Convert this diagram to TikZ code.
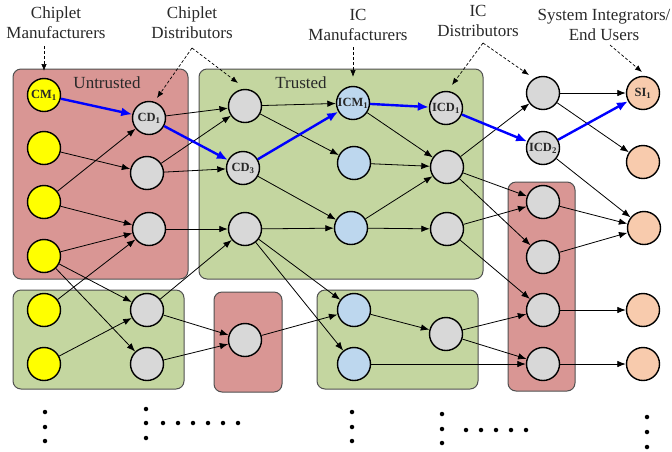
\documentclass[tikz,border=0pt]{standalone}
\usepackage{fontspec}
\setmainfont{Liberation Serif}
\usetikzlibrary{arrows.meta}
\definecolor{redbox}{RGB}{217,150,148}
\definecolor{greenbox}{RGB}{196,214,160}
\definecolor{boxline}{RGB}{80,80,80}
\definecolor{nodegray}{RGB}{216,216,216}
\definecolor{nodeyellow}{RGB}{255,255,0}
\definecolor{nodeblue}{RGB}{189,215,238}
\definecolor{nodeorange}{RGB}{248,203,173}
\definecolor{edgeblue}{RGB}{0,0,255}
\definecolor{labeltext}{RGB}{40,40,40}
\begin{document}
\begin{tikzpicture}[x=1pt,y=-1pt,
  box/.style={draw=boxline,line width=1pt,rounded corners=8pt},
  ent/.style={circle,draw=black,line width=1.4pt,minimum size=33pt,inner sep=0pt,
              text=labeltext,font=\fontsize{12.5}{13}\selectfont\bfseries},
  gn/.style={ent,fill=nodegray},
  yn/.style={ent,fill=nodeyellow},
  bn/.style={ent,fill=nodeblue},
  on/.style={ent,fill=nodeorange},
  edge/.style={-{Latex[length=8.5pt,width=6.5pt]},line width=0.8pt},
  bedge/.style={-{Latex[length=11pt,width=9pt]},line width=2.4pt,draw=edgeblue,color=edgeblue},
  lead/.style={-{Latex[length=7pt,width=5.5pt]},dash pattern=on 3pt off 2pt,line width=0.7pt},
  head/.style={align=center,font=\fontsize{17}{20}\selectfont,inner sep=0pt,text=labeltext},
  boxlabel/.style={font=\fontsize{17}{20}\selectfont,inner sep=0pt,text=labeltext},
  dot/.style={circle,fill=black,inner sep=0pt,minimum size=4.5pt}
]
\useasboundingbox (0,0) rectangle (672,451);

% boxes
\draw[box,fill=redbox]   (13,69)  rectangle (188,279);
\draw[box,fill=greenbox] (199,69) rectangle (483,279);
\draw[box,fill=greenbox] (13,290) rectangle (184,389);
\draw[box,fill=redbox]   (214,292) rectangle (282,392);
\draw[box,fill=greenbox] (317,290) rectangle (478,389);
\draw[box,fill=redbox]   (508,182) rectangle (575,391);
\node[boxlabel] (lu) at (107,83) {Untrusted};
\node[boxlabel] (lt) at (301,83) {Trusted};

% headings
\node[head] (h1) at (56,23) {Chiplet\\Manufacturers};
\node[head] (h2) at (192,23) {Chiplet\\Distributors};
\node[head] (h3) at (358,25) {IC\\Manufacturers};
\node[head] (h4) at (478,21) {IC\\Distributors};
\node[head] (h5) at (604,25) {System Integrators/\\End Users};

% column 1
\node[yn] (a1) at (44,95) {CM\textsubscript{1}};
\node[yn] (a2) at (44,148) {};
\node[yn] (a3) at (44,202) {};
\node[yn] (a4) at (44,256) {};
\node[yn] (a5) at (44,310) {};
\node[yn] (a6) at (44,364) {};
% column 2
\node[gn] (b1) at (149,118) {CD\textsubscript{1}};
\node[gn] (b2) at (147,173) {};
\node[gn] (b3) at (149,229) {};
\node[gn] (b4) at (147,310) {};
\node[gn] (b5) at (147,364) {};
% column 3
\node[gn] (c1) at (245,106) {};
\node[gn] (c2) at (243,168) {CD\textsubscript{3}};
\node[gn] (c3) at (245,229) {};
\node[gn] (c4) at (245,340) {};
% column 4
\node[bn] (d1) at (353,103) {ICM\textsubscript{1}};
\node[bn] (d2) at (354,163) {};
\node[bn] (d3) at (351,228) {};
\node[bn] (d4) at (354,310) {};
\node[bn] (d5) at (354,364) {};
% column 5
\node[gn] (e1) at (446,108) {ICD\textsubscript{1}};
\node[gn] (e2) at (447,167) {};
\node[gn] (e3) at (447,229) {};
\node[gn] (e4) at (446,334) {};
% column 6
\node[gn] (f1) at (543,93) {};
\node[gn] (f2) at (543,148) {ICD\textsubscript{2}};
\node[gn] (f3) at (543,202) {};
\node[gn] (f4) at (543,257) {};
\node[gn] (f5) at (543,310) {};
\node[gn] (f6) at (543,364) {};
% column 7
\node[on] (g1) at (643,93) {SI\textsubscript{1}};
\node[on] (g2) at (643,162) {};
\node[on] (g3) at (644,228) {};
\node[on] (g4) at (643,310) {};
\node[on] (g5) at (643,364) {};

% black edges
\foreach \s/\t in {a2/b2,a3/b1,a3/b3,a4/b3,a4/b4,a4/b5,a5/b3,a6/b4,
  b1/c1,b2/c1,b2/c2,b3/c3,b4/c3,b4/c4,b5/c4,
  c1/d1,c1/d2,c2/d3,c3/d3,c3/d4,c3/d5,c4/d4,
  d1/e2,d2/e2,d3/e2,d3/e3,d4/e4,d5/f6,
  e2/f1,e2/f3,e2/f4,e3/f3,e3/f5,e4/f5,e4/f6,
  f1/g1,f1/g2,f2/g3,f3/g3,f4/g3,f5/g4,f6/g5}
  \draw[edge] (\s) -- (\t);

% blue path
\foreach \s/\t in {a1/b1,b1/c2,c2/d1,d1/e1,e1/f2,f2/g1}
  \draw[bedge] (\s) -- (\t);

% dashed leaders
\coordinate (p1) at (44,46);   \coordinate (q1) at (44,71);
\coordinate (p2) at (192,48);  \coordinate (q2a) at (157,98); \coordinate (q2b) at (238,83);
\coordinate (p3) at (353,47);  \coordinate (q3) at (353,77);
\coordinate (p4) at (483,43);  \coordinate (q4a) at (452,85); \coordinate (q4b) at (529,75);
\coordinate (p5) at (610,45);  \coordinate (q5) at (642,72);
\draw[lead] (p1) -- (q1);
\draw[lead] (p2) -- (q2a);
\draw[lead] (p2) -- (q2b);
\draw[lead] (p3) -- (q3);
\draw[lead] (p4) -- (q4a);
\draw[lead] (p4) -- (q4b);
\draw[lead] (p5) -- (q5);

% continuation dots
\foreach \x/\y [count=\i] in {45/412,45/427,45/441,
  146/409,146/423,146/438,163/423,178/423,193/423,208/423,223/423,238/423,
  352/412,352/427,352/441,
  442/414,442/429,442/443,466/430,481/430,496/430,511/430,526/430,
  647/417,647/432,647/447}
  \node[dot] (dot\i) at (\x,\y) {};
\end{tikzpicture}
\end{document}
